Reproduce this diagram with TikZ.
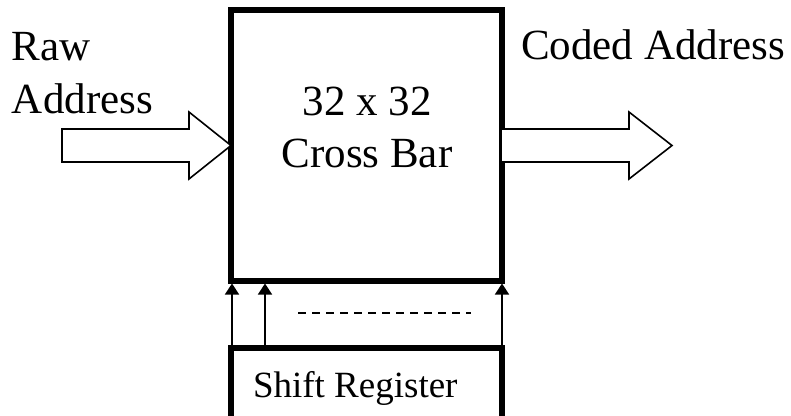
\documentclass[tikz,border=0pt]{standalone}
\usepackage{fontspec}
\setmainfont{Liberation Serif}
\usetikzlibrary{arrows.meta,calc}
\begin{document}
\begin{tikzpicture}[x=1pt,y=-1pt,
  bigtext/.style={font=\fontsize{43}{52}\selectfont, inner sep=0pt, outer sep=0pt},
  smalltext/.style={font=\fontsize{37}{44}\selectfont, inner sep=0pt, outer sep=0pt},
  blockbox/.style={draw, line width=5.5pt, inner sep=0pt, outer sep=0pt},
  sarrow/.style={line width=1.5pt, -{Triangle[width=14pt,length=11pt]}},
  blockarrow/.style={draw, line width=1.6pt, fill=white, line join=miter}]
\clip (0,0) rectangle (791,415);
\useasboundingbox (0,0) rectangle (791,415);
% cross bar box
\node[blockbox, minimum width=271pt, minimum height=271pt] (cb) at (366.5,145.5) {};
\node[bigtext, anchor=base] (t1) at (367,115) {32 x 32};
\node[bigtext, anchor=base] (t2) at (367,167) {Cross Bar};
% shift register
\node[blockbox, minimum width=271pt, minimum height=80pt, anchor=north west] (sr) at (231,348) {};
\draw[line width=4pt] (sr.north west) -- (sr.north east);
\node[smalltext, anchor=base west] (srt) at (253,397) {Shift Register};
% labels
\node[bigtext, anchor=base west] (raw) at (12,60) {Raw};
\node[bigtext, anchor=base west] (addr) at (12,113) {Address};
\node[bigtext, anchor=base west] (coded) at (521,59) {Coded Address};
% block arrows
\draw[blockarrow] (62,129) -- (189,129) -- (189,112) -- (cb.west) -- (189,179) -- (189,162) -- (62,162) -- cycle;
\draw[blockarrow] (cb.east |- 0,129) -- (629,129) -- (629,112) -- (672,145.5) -- (629,179) -- (629,162) -- (cb.east |- 0,162);
% small arrows
\draw[sarrow] ([xshift=1pt]sr.north west) -- ([xshift=1pt,yshift=-2.5pt]cb.south west);
\draw[sarrow] ([xshift=34pt]sr.north west) -- ([xshift=34pt,yshift=-2.5pt]cb.south west);
\draw[sarrow] (sr.north east) -- ([yshift=-2.5pt]cb.south east);
% dashed line
\draw[line width=1.2pt, dash pattern=on 8pt off 6pt] (298,313) -- (471,313);
\end{tikzpicture}
\end{document}
